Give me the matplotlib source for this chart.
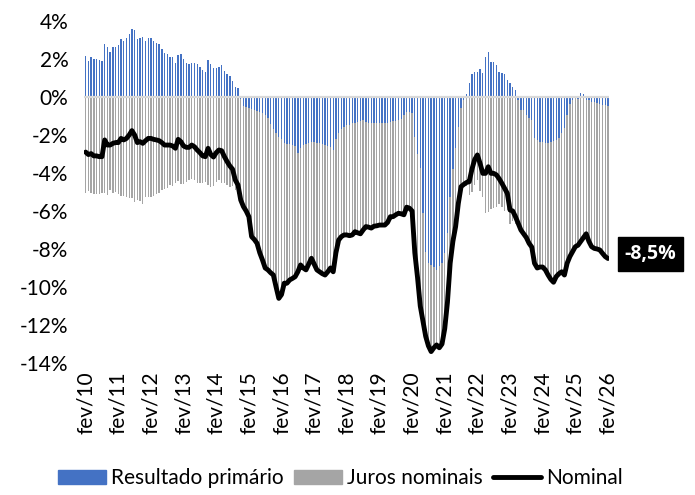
import numpy as np
import matplotlib
matplotlib.use("Agg")
import matplotlib.pyplot as plt
from matplotlib.lines import Line2D
from matplotlib.patches import Patch

plt.rcParams['font.family'] = ['Lato', 'DejaVu Sans']

# Monthly data, fev/2010 .. fev/2026 (% of GDP, 12m accumulated)
primario = [
    2.16, 1.91, 2.09, 2.02, 1.98, 1.95, 1.91, 2.77, 2.61, 2.37, 2.61, 2.61,
    2.72, 3.04, 2.95, 3.09, 3.30, 3.56, 3.53, 3.04, 3.12, 3.18, 2.95, 3.09,
    3.09, 2.97, 2.86, 2.77, 2.51, 2.33, 2.25, 2.09, 2.09, 1.81, 2.19, 2.25,
    1.98, 1.81, 1.72, 1.77, 1.77, 1.72, 1.60, 1.42, 1.33, 1.95, 1.72, 1.51,
    1.54, 1.60, 1.68, 1.37, 1.21, 1.10, 0.86, 0.54, 0.49, -0.10, -0.50, -0.55,
    -0.60, -0.65, -0.70, -0.75, -0.78, -0.85, -0.95, -1.10, -1.40, -1.70, -1.90, -2.10,
    -2.20, -2.40, -2.45, -2.50, -2.55, -2.60, -2.95, -2.70, -2.55, -2.50, -2.40, -2.35,
    -2.35, -2.40, -2.44, -2.50, -2.55, -2.60, -2.65, -2.79, -2.20, -1.90, -1.70, -1.56,
    -1.50, -1.45, -1.39, -1.35, -1.30, -1.25, -1.21, -1.30, -1.35, -1.39, -1.38, -1.36,
    -1.35, -1.35, -1.35, -1.35, -1.30, -1.28, -1.25, -1.22, -1.15, -0.95, -0.77, -0.80,
    -0.82, -2.09, -3.00, -3.75, -6.12, -8.14, -8.75, -8.85, -8.95, -9.10, -8.90, -8.75,
    -8.20, -7.17, -5.25, -3.80, -2.70, -1.56, -0.60, -0.17, 0.16, 0.72, 1.19, 1.33,
    1.33, 1.46, 1.25, 2.09, 2.39, 1.86, 1.82, 1.68, 1.33, 1.25, 1.20, 0.90,
    0.72, 0.54, 0.37, -0.17, -0.70, -0.70, -0.96, -1.08, -1.20, -2.18, -2.26, -2.35,
    -2.35, -2.40, -2.44, -2.35, -2.30, -2.26, -2.18, -1.91, -1.65, -0.96, -0.35, -0.17,
    0.00, -0.09, 0.19, 0.16, -0.17, -0.17, -0.26, -0.26, -0.30, -0.39, -0.44, -0.44,
    -0.45,
]

nominal = [
    -2.90, -3.03, -2.98, -3.10, -3.10, -3.14, -3.14, -2.26, -2.53, -2.53, -2.44, -2.40,
    -2.40, -2.18, -2.26, -2.18, -2.00, -1.77, -2.00, -2.40, -2.35, -2.44, -2.30, -2.18,
    -2.18, -2.23, -2.26, -2.30, -2.40, -2.53, -2.53, -2.53, -2.58, -2.70, -2.23, -2.35,
    -2.58, -2.65, -2.65, -2.53, -2.62, -2.79, -2.93, -3.10, -3.14, -2.70, -3.03, -3.16,
    -2.93, -2.79, -2.83, -3.14, -3.40, -3.63, -3.80, -4.37, -4.63, -5.42, -5.77, -6.00,
    -6.30, -7.35, -7.50, -7.70, -8.20, -8.58, -9.00, -9.10, -9.25, -9.37, -10.00, -10.60,
    -10.40, -9.80, -9.80, -9.63, -9.55, -9.46, -9.20, -8.84, -9.00, -9.10, -8.80, -8.49,
    -8.80, -9.10, -9.20, -9.30, -9.37, -9.20, -9.00, -9.20, -8.20, -7.53, -7.35, -7.26,
    -7.26, -7.30, -7.26, -7.09, -7.15, -7.20, -7.00, -6.82, -6.85, -6.90, -6.80, -6.78,
    -6.74, -6.74, -6.74, -6.60, -6.30, -6.30, -6.20, -6.12, -6.15, -6.20, -5.80, -5.85,
    -6.00, -8.20, -9.50, -11.00, -11.80, -12.60, -13.10, -13.40, -13.20, -13.05, -13.20, -13.00,
    -12.20, -10.80, -8.75, -7.60, -6.82, -5.60, -4.72, -4.60, -4.50, -4.46, -3.80, -3.30,
    -3.05, -3.50, -4.02, -4.02, -3.67, -4.02, -4.02, -4.10, -4.30, -4.54, -4.80, -5.07,
    -5.95, -6.00, -6.30, -6.65, -7.00, -7.20, -7.40, -7.70, -7.90, -8.75, -9.00, -8.95,
    -8.95, -9.10, -9.37, -9.60, -9.75, -9.45, -9.30, -9.20, -9.37, -8.75, -8.40, -8.14,
    -7.88, -7.80, -7.60, -7.40, -7.20, -7.60, -7.88, -7.97, -8.00, -8.05, -8.23, -8.40,
    -8.50,
]

tick_labels = ['fev/10', 'fev/11', 'fev/12', 'fev/13', 'fev/14', 'fev/15', 'fev/16',
               'fev/17', 'fev/18', 'fev/19', 'fev/20', 'fev/21', 'fev/22', 'fev/23',
               'fev/24', 'fev/25', 'fev/26']

prim = np.array(primario)
nom = np.array(nominal)
juros = nom - prim
x = np.arange(len(prim))

BLUE = '#4472C4'
GRAY = '#A5A5A5'
FS = 15

fig = plt.figure(figsize=(6.95, 4.95), dpi=100)
ax = fig.add_axes([0.1213, 0.2667, 0.7554, 0.6909])

ax.bar(x, prim, width=0.5, color=BLUE, linewidth=0, zorder=2)
ax.bar(x, juros, bottom=np.minimum(prim, 0), width=0.5, color=GRAY,
       linewidth=0, zorder=2)
ax.axhline(0, color='#D9D9D9', lw=1.6, zorder=3)
ax.plot(x, nom, color='black', lw=3.5, solid_joinstyle='round',
        solid_capstyle='round', zorder=4)

ax.set_xlim(-0.5, len(prim) - 0.5)
ax.set_ylim(-14, 4)
yt = np.arange(-14, 5, 2)
ax.set_yticks(yt)
ax.set_yticklabels([f"{v}%" for v in yt], fontsize=FS)
ax.set_xticks(np.arange(0, len(prim), 12))
ax.set_xticklabels(tick_labels, rotation=90, fontsize=FS)
ax.tick_params(axis='y', length=0, pad=11.5)
ax.tick_params(axis='x', length=0, pad=6)
for s in ax.spines.values():
    s.set_visible(False)

last = nom[-1]
ax.annotate(f"{last:.1f}%".replace('.', ','), xy=(x[-1], last),
            xytext=(12, 3), textcoords='offset points', ha='left', va='center',
            color='white', fontsize=14, fontweight='bold',
            family=['Open Sans', 'DejaVu Sans'],
            bbox=dict(boxstyle='square,pad=0.36', fc='black', ec='black'),
            annotation_clip=False, zorder=5)

handles = [Patch(color=BLUE), Patch(color=GRAY),
           Line2D([0], [0], color='black', lw=3.5, solid_capstyle='round')]
fig.legend(handles, ['Resultado primário', 'Juros nominais', 'Nominal'],
           loc='center', bbox_to_anchor=(0.49, 0.034), ncol=3, frameon=False,
           fontsize=FS, handlelength=2.3, handletextpad=0.25,
           columnspacing=0.5)

fig.savefig('out.png', dpi=100)
